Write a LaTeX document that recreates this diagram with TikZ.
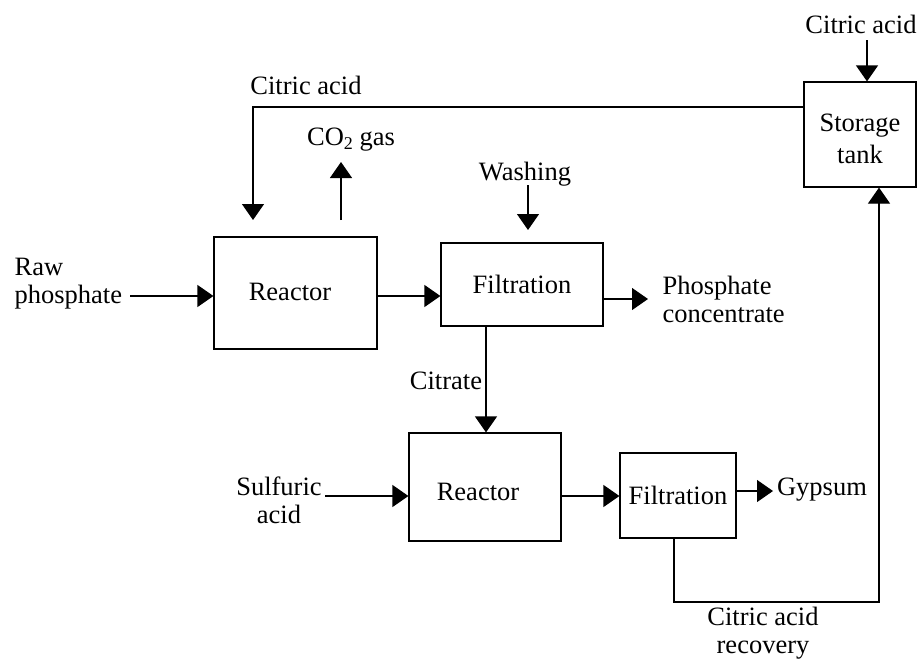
\documentclass[tikz,border=0pt]{standalone}
\usepackage{fontspec}
\setmainfont{Liberation Serif}
\usetikzlibrary{arrows.meta}
\begin{document}
\begin{tikzpicture}[x=1pt,y=-1pt, line width=1.2pt,
  arr/.style={-{Triangle[length=16pt,width=22pt]}},
  box/.style={draw, inner sep=0pt},
  every node/.style={font=\fontsize{26.5}{28}\selectfont, inner sep=0pt}]
\useasboundingbox (0,0) rectangle (920,659);
% boxes
\node[box, minimum width=163pt, minimum height=112pt] (r1) at (295.5,293) {};
\node at (290,292) {Reactor};
\node[box, minimum width=162pt, minimum height=83pt] (f1) at (522,284.5) {Filtration};
\node[box, minimum width=112pt, minimum height=105pt] (st) at (860,134.5) {};
\node[align=center] at (860,139) {Storage\\[4pt]tank};
\node[box, minimum width=152pt, minimum height=108pt] (r2) at (485,487) {};
\node at (478,492) {Reactor};
\node[box, minimum width=116pt, minimum height=85pt] (f2) at (678,495.5) {Filtration};
% labels
\node (lca) at (306,85) {Citric acid};
\node (lco) at (351,140) {CO\raisebox{-0.3ex}{\fontsize{18}{18}\selectfont 2} gas};
\node (lwa) at (525,174) {Washing};
\node[anchor=west, align=left] (lraw) at (14,284) {Raw\\phosphate};
\node[anchor=west, align=left] (lph) at (662,299) {Phosphate\\concentrate};
\node (lcit) at (446,381) {Citrate};
\node[align=center] (lsu) at (279,500) {Sulfuric\\acid};
\node (lgy) at (822,490) {Gypsum};
\node (ltop) at (861,24) {Citric acid};
\node[align=center] (lrec) at (763,633) {Citric acid\\recovery};
% free ends
\coordinate (ca) at (253,220);
\coordinate (co) at (341,162);
\coordinate (cot) at (341,220);
\coordinate (wa0) at (528,185);
\coordinate (wa1) at (528,230);
\coordinate (raw0) at (130,296);
\coordinate (ph) at (648,299);
\coordinate (su0) at (325,496);
\coordinate (gy) at (773,491);
\coordinate (top0) at (867,40);
% connectors
\draw[arr] (st.west |- 0,107) -- (253,107) -- (ca);
\draw[arr] (cot) -- (co);
\draw[arr] (wa0) -- (wa1);
\draw[arr] (raw0) -- (raw0 -| r1.west);
\draw[arr] (r1.east |- 0,296) -- (f1.west |- 0,296);
\draw[arr] (f1.east |- ph) -- (ph);
\draw[arr] (f1.south -| 486,0) -- (r2.north -| 486,0);
\draw[arr] (su0) -- (su0 -| r2.west);
\draw[arr] (r2.east |- 0,496) -- (f2.west |- 0,496);
\draw[arr] (f2.east |- gy) -- (gy);
\draw[arr] (top0) -- (st.north -| top0);
\draw[arr] (f2.south -| 674,0) -- (674,602) -- (879,602) -- (st.south -| 879,0);
\end{tikzpicture}
\end{document}
